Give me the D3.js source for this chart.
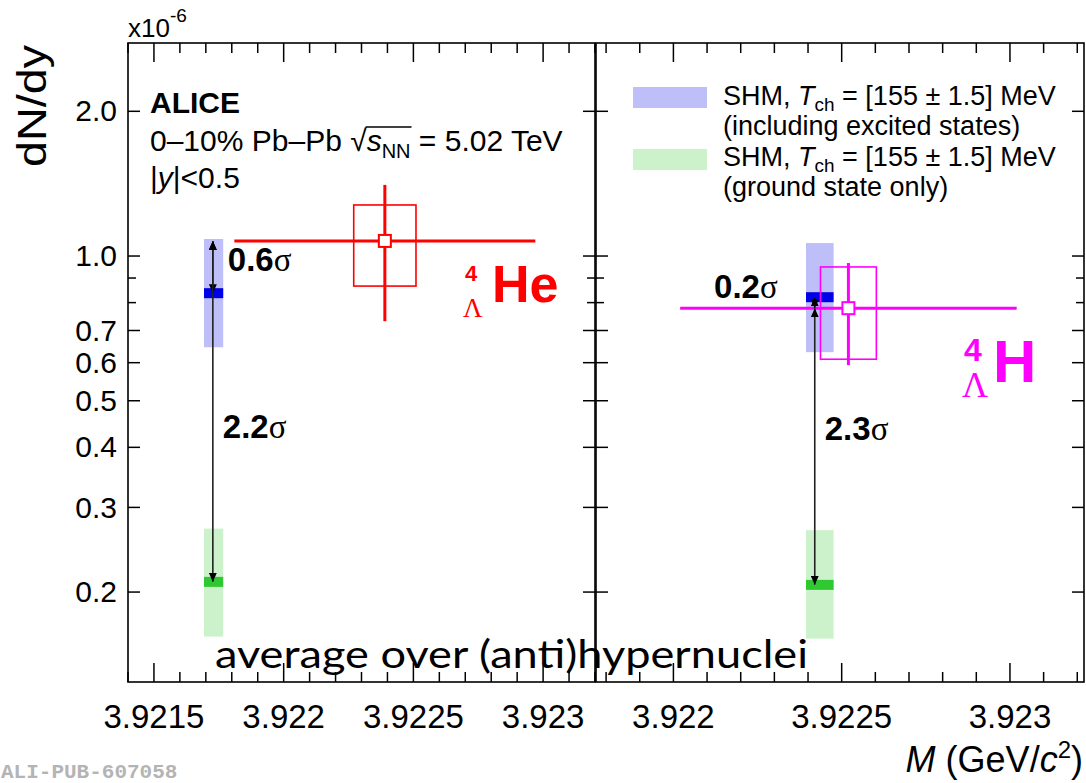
<!DOCTYPE html>
<html>
<head>
<meta charset="utf-8">
<script src="https://cdn.jsdelivr.net/npm/d3@7"></script>
<style>
  body { margin: 0; background: #fff; }
  svg text { font-family: "Liberation Sans", Arial, Helvetica, sans-serif; fill: #000; }
</style>
</head>
<body>
<svg id="chart" width="1086" height="783"></svg>
<script>
// values (yields in units of 1e-6, masses in GeV/c^2)
var nuclei = ["He4L", "H4L"];
var massDomainLeft = [3.92140, 3.92320];
var massDomainRight = [3.92177, 3.92322];
var xTickLabelsLeft = ["3.9215", "3.922", "3.9225", "3.923"];
var xTickLabelsRight = ["3.922", "3.9225", "3.923"];
var yTickLabels = ["0.2", "0.3", "0.4", "0.5", "0.6", "0.7", "1.0", "2.0"];
var yMinorTicks = [0.8, 0.9];
var yDomain = [0.13, 2.774];

var measMass = [3.92239, 3.92252];
var measMassStat = [0.00058, 0.00050];
var measMassSyst = [0.00012, 0.000083];
var measYield = [1.075, 0.779];
var measStatLow = [0.732, 0.593];
var measStatHigh = [1.406, 0.967];
var measSystLow = [0.866, 0.610];
var measSystHigh = [1.277, 0.949];

var shmMass = [3.92173, 3.922435];
var shmMassHalf = [0.000037, 0.000041];
var shmExcited = [0.837, 0.821];
var shmExcitedLow = [0.646, 0.631];
var shmExcitedHigh = [1.085, 1.064];
var shmGround = [0.210, 0.207];
var shmGroundLow = [0.1616, 0.160];
var shmGroundHigh = [0.271, 0.269];

var arrowMass = [3.921727, 3.92242];
var sigmaExcited = ["0.6", "0.2"];
var sigmaGround = ["2.2", "2.3"];

// layout
var plotTop = 43, plotBottom = 682;
var panels = [
  { x0: 128, x1: 595, domain: massDomainLeft, labels: xTickLabelsLeft, color: "#ff0000" },
  { x0: 596, x1: 1084, domain: massDomainRight, labels: xTickLabelsRight, color: "#ff00ff" }
];
var blueBand = "#bebef8", blueLine = "#0000e8";
var greenBand = "#ccf2cc", greenLine = "#30c830";

var svg = d3.select("#chart");
var defs = svg.append("defs");
defs.append("marker")
  .attr("id", "head")
  .attr("markerUnits", "userSpaceOnUse")
  .attr("markerWidth", 9).attr("markerHeight", 8)
  .attr("refX", 9).attr("refY", 4)
  .attr("orient", "auto-start-reverse")
  .append("path").attr("d", "M0,0 L9,4 L0,8 Z").attr("fill", "#000");

var y = d3.scaleLog().domain(yDomain).range([plotBottom, plotTop]);

panels.forEach(function(p, i) {
  var x = d3.scaleLinear().domain(p.domain).range([p.x0, p.x1]);
  var g = svg.append("g");

  // SHM bands
  [[shmExcitedLow, shmExcitedHigh, shmExcited, blueBand, blueLine],
   [shmGroundLow, shmGroundHigh, shmGround, greenBand, greenLine]].forEach(function(b) {
    var xa = x(shmMass[i] - shmMassHalf[i]), xb = x(shmMass[i] + shmMassHalf[i]);
    g.append("rect")
      .attr("x", xa).attr("width", xb - xa)
      .attr("y", y(b[1][i])).attr("height", y(b[0][i]) - y(b[1][i]))
      .attr("fill", b[3]);
    g.append("rect")
      .attr("x", xa).attr("width", xb - xa)
      .attr("y", y(b[2][i]) - 5).attr("height", 10)
      .attr("fill", b[4]);
  });

  // measurement: syst box, stat bars, open marker
  g.append("rect")
    .attr("x", x(measMass[i] - measMassSyst[i]))
    .attr("width", x(measMass[i] + measMassSyst[i]) - x(measMass[i] - measMassSyst[i]))
    .attr("y", y(measSystHigh[i]))
    .attr("height", y(measSystLow[i]) - y(measSystHigh[i]))
    .attr("fill", "none").attr("stroke", p.color).attr("stroke-width", 1.6);
  g.append("line")
    .attr("x1", x(measMass[i] - measMassStat[i])).attr("x2", x(measMass[i] + measMassStat[i]))
    .attr("y1", y(measYield[i])).attr("y2", y(measYield[i]))
    .attr("stroke", p.color).attr("stroke-width", 3);
  g.append("line")
    .attr("x1", x(measMass[i])).attr("x2", x(measMass[i]))
    .attr("y1", y(measStatLow[i])).attr("y2", y(measStatHigh[i]))
    .attr("stroke", p.color).attr("stroke-width", 3);
  g.append("rect")
    .attr("x", x(measMass[i]) - 6).attr("y", y(measYield[i]) - 6)
    .attr("width", 12).attr("height", 12)
    .attr("fill", "#fff").attr("stroke", p.color).attr("stroke-width", 2);

  // deviation arrows
  var ax = x(arrowMass[i]);
  [shmExcited, shmGround].forEach(function(s) {
    g.append("line")
      .attr("x1", ax).attr("x2", ax)
      .attr("y1", y(measYield[i])).attr("y2", y(s[i]))
      .attr("stroke", "#222").attr("stroke-width", 1.6)
      .attr("marker-start", "url(#head)").attr("marker-end", "url(#head)");
  });

  // frame
  g.append("rect")
    .attr("x", p.x0).attr("y", plotTop)
    .attr("width", p.x1 - p.x0).attr("height", plotBottom - plotTop)
    .attr("fill", "none").attr("stroke", "#000").attr("stroke-width", 1.6);

  // x ticks top and bottom
  var k0 = Math.ceil(p.domain[0] * 1e4), k1 = Math.floor(p.domain[1] * 1e4);
  d3.range(k0, k1 + 1).forEach(function(k) {
    var len = (k % 5 === 0) ? 19 : 10;
    var xx = x(k / 1e4);
    g.append("line").attr("x1", xx).attr("x2", xx).attr("y1", plotBottom).attr("y2", plotBottom - len)
      .attr("stroke", "#000").attr("stroke-width", 1.5);
    g.append("line").attr("x1", xx).attr("x2", xx).attr("y1", plotTop).attr("y2", plotTop + len)
      .attr("stroke", "#000").attr("stroke-width", 1.5);
  });
  p.labels.forEach(function(l) {
    g.append("text")
      .attr("x", x(+l)).attr("y", 728)
      .attr("text-anchor", "middle")
      .style("font-size", "33px")
      .text(l);
  });

  // y ticks, both edges
  var yt = yTickLabels.map(Number).map(function(v) { return [v, 12]; })
    .concat(yMinorTicks.map(function(v) { return [v, 8]; }));
  yt.forEach(function(t) {
    g.append("line").attr("x1", p.x0).attr("x2", p.x0 + t[1])
      .attr("y1", y(t[0])).attr("y2", y(t[0])).attr("stroke", "#000").attr("stroke-width", 1.5);
    g.append("line").attr("x1", p.x1).attr("x2", p.x1 - t[1])
      .attr("y1", y(t[0])).attr("y2", y(t[0])).attr("stroke", "#000").attr("stroke-width", 1.5);
  });

  // sigma labels
  function sigmaText(tx, ty, num, anchor) {
    var t = g.append("text").attr("x", tx).attr("y", ty)
      .attr("text-anchor", anchor).style("font-size", "33px");
    t.append("tspan").style("font-weight", "bold").text(num);
    t.append("tspan").style("font-family", "Liberation Serif, serif").text("σ");
  }
  if (i === 0) {
    sigmaText(ax + 15, 271, sigmaExcited[i], "start");
    sigmaText(ax + 10, 438, sigmaGround[i], "start");
  } else {
    sigmaText(ax - 37, 298, sigmaExcited[i], "end");
    sigmaText(ax + 10, 440, sigmaGround[i], "start");
  }
});

// y axis labels on the left panel
var yAxis = d3.axisLeft(y)
  .tickValues(yTickLabels.map(Number))
  .tickSize(-12)
  .tickPadding(11)
  .tickFormat(function(d, i) { return yTickLabels[i]; });
var ya = svg.append("g").attr("transform", "translate(128,0)").call(yAxis);
ya.select(".domain").remove();
ya.selectAll("line").remove();
ya.selectAll("text").style("font-size", "30px").attr("font-family", null);

// axis titles
svg.append("text")
  .attr("transform", "translate(46,167) rotate(-90)")
  .attr("textLength", 122).attr("lengthAdjust", "spacingAndGlyphs")
  .style("font-size", "40px")
  .text("dN/dy");
var mul = svg.append("text").attr("x", 128).attr("y", 37).style("font-size", "26px");
mul.append("tspan").text("x10");
mul.append("tspan").attr("dy", -15).style("font-size", "19px").text("-6");

var xt = svg.append("text").attr("x", 1083).attr("y", 772)
  .attr("text-anchor", "end").style("font-size", "36px");
xt.append("tspan").style("font-style", "italic").text("M");
xt.append("tspan").text(" (GeV/");
xt.append("tspan").style("font-style", "italic").text("c");
xt.append("tspan").attr("dy", -14).style("font-size", "24px").text("2");
xt.append("tspan").attr("dy", 14).text(")");

// ALICE block
svg.append("text").attr("x", 150).attr("y", 113)
  .style("font-size", "30px").style("font-weight", "bold").text("ALICE");
var sys = svg.append("text").attr("x", 150).attr("y", 151).style("font-size", "30px");
sys.append("tspan").text("0–10% Pb–Pb √");
sys.append("tspan").style("font-style", "italic").text("s");
sys.append("tspan").attr("dy", 7).style("font-size", "20px").text("NN");
sys.append("tspan").attr("dy", -7).text(" = 5.02 TeV");
var sn = sys.node();
var ox0 = sn.getStartPositionOfChar(13).x - 1;
var ox1 = sn.getEndPositionOfChar(15).x + 1;
svg.append("line").attr("x1", ox0).attr("x2", ox1).attr("y1", 151 - 24).attr("y2", 151 - 24)
  .attr("stroke", "#000").attr("stroke-width", 1.4);
var rap = svg.append("text").attr("x", 150).attr("y", 188).style("font-size", "30px");
rap.append("tspan").text("|");
rap.append("tspan").style("font-style", "italic").text("y");
rap.append("tspan").text("|<0.5");

// legend
var legend = [
  { fill: blueBand, y: 87, l1: 105, l2: 135, note: "(including excited states)" },
  { fill: greenBand, y: 149, l1: 166, l2: 196, note: "(ground state only)" }
];
legend.forEach(function(e) {
  svg.append("rect").attr("x", 633).attr("y", e.y).attr("width", 74).attr("height", 21).attr("fill", e.fill);
  var t = svg.append("text").attr("x", 723).attr("y", e.l1).style("font-size", "27px");
  t.append("tspan").text("SHM, ");
  t.append("tspan").style("font-style", "italic").text("T");
  t.append("tspan").attr("dy", 6).style("font-size", "19px").text("ch");
  t.append("tspan").attr("dy", -6).text(" = [155 ± 1.5] MeV");
  svg.append("text").attr("x", 723).attr("y", e.l2).style("font-size", "27px").text(e.note);
});

// hypernucleus labels
function nucleusLabel(x0, base, big, small, lam, gap, col, name) {
  svg.append("text").attr("x", x0 + 2).attr("y", base - 21)
    .style("font-size", small + "px").style("font-weight", "bold").style("fill", col).text("4");
  svg.append("text").attr("x", x0).attr("y", base + 15)
    .style("font-size", lam + "px").style("font-family", "Liberation Serif, serif")
    .style("fill", col).text("Λ");
  svg.append("text").attr("x", x0 + gap).attr("y", base)
    .style("font-size", big + "px").style("font-weight", "bold").style("fill", col).text(name);
}
nucleusLabel(463, 302, 52, 22, 27, 29, "#ff0000", "He");
nucleusLabel(962, 382, 60, 32, 36, 31, "#ff00ff", "H");

// overlay note and figure id
svg.append("text").attr("x", 215).attr("y", 668)
  .attr("textLength", 593).attr("lengthAdjust", "spacingAndGlyphs")
  .style("font-family", "Lato, 'Open Sans', sans-serif").style("font-size", "39px")
  .text("average over (anti)hypernuclei");
svg.append("text").attr("x", 1).attr("y", 778)
  .style("font-family", "'Liberation Mono', monospace").style("font-weight", "bold")
  .style("font-size", "21px").style("fill", "#b4b4b4")
  .text("ALI-PUB-607058");
</script>
</body>
</html>
